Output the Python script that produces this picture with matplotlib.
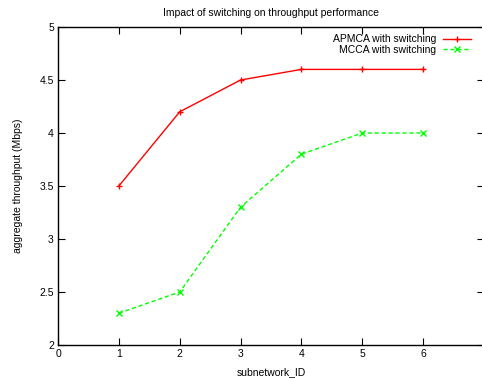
import matplotlib

matplotlib.use("Agg")
import matplotlib.pyplot as plt

subnet = [1, 2, 3, 4, 5, 6]
apmca = [3.5, 4.2, 4.5, 4.6, 4.6, 4.6]
mcca = [2.3, 2.5, 3.3, 3.8, 4.0, 4.0]

plt.rcParams["font.family"] = ["Liberation Sans", "DejaVu Sans"]
plt.rcParams["font.size"] = 7.5

W, H = 482, 379
fig = plt.figure(figsize=(W / 100, H / 100), dpi=100)
# axes box in pixels: left 58, right 484 (past edge), top 27, bottom 345
ax = fig.add_axes([58 / W, (H - 345) / H, (484 - 58) / W, (345 - 27) / H])

ax.plot(subnet, apmca, "-", color="#ff0000", linewidth=1.0,
        marker="+", markersize=5, markeredgewidth=1.0, label="APMCA with switching")
ax.plot(subnet, mcca, "--", color="#00ff00", linewidth=1.0, dashes=(3, 2),
        marker="x", markersize=4, markeredgewidth=1.0, label="MCCA with switching")

ax.set_xlim(0, 7)
ax.set_ylim(2, 5)
ax.set_xticks([0, 1, 2, 3, 4, 5, 6, 7])
ax.set_yticks([2, 2.5, 3, 3.5, 4, 4.5, 5])
ax.set_yticklabels(["2", "2.5", "3", "3.5", "4", "4.5", "5"])
ax.tick_params(direction="in", top=True, right=True, length=5, width=0.8, pad=3)
for s in ax.spines.values():
    s.set_linewidth(1.0)

ax.set_xlabel("subnetwork_ID", labelpad=6)
ax.set_ylabel("aggregate throughput (Mbps)", labelpad=12)
ax.set_title("Impact of switching on throughput performance", pad=8, fontsize=7.5)

leg = ax.legend(loc="upper right", bbox_to_anchor=(420 / 426, 1.0), frameon=False,
                markerfirst=False, handlelength=2.7, handletextpad=0.6,
                labelspacing=0.05, borderaxespad=0.3)

fig.savefig("out.png", dpi=100)
